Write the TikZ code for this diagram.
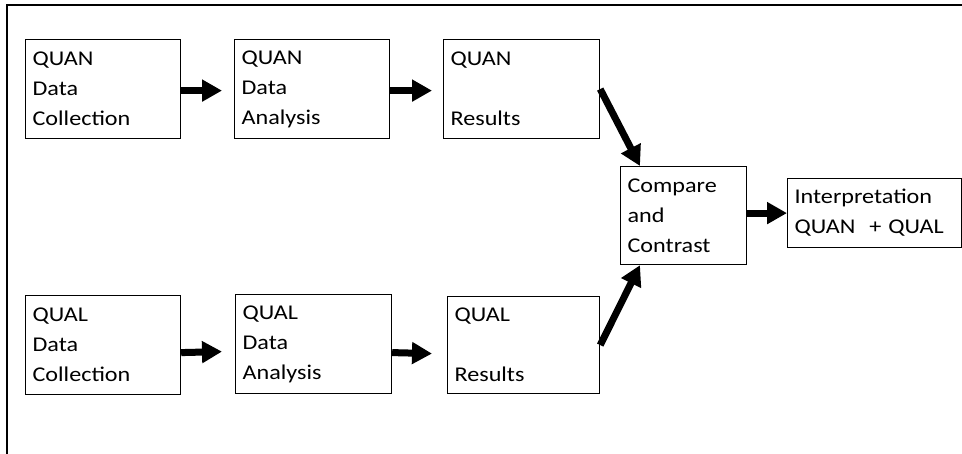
\documentclass[tikz,border=0pt]{standalone}
\usepackage{fontspec}
\setmainfont{Carlito}[FakeStretch=1.15]
\usetikzlibrary{arrows.meta}
\begin{document}
\begin{tikzpicture}[x=1pt,y=-1pt,
  box/.style={draw, line width=1.2pt, rectangle, inner xsep=7pt, inner ysep=0pt,
    align=left, font=\fontsize{21}{30}\selectfont, anchor=north west},
  arr/.style={line width=7pt, -{Triangle[length=20pt,width=21pt]}}]
\useasboundingbox (0,0) rectangle (962,454);
\draw[line width=2pt] (7,470) -- (7,5) -- (980,5);
% top row
\node[box, text width=141pt, minimum height=99pt] (b1) at (25,39) {QUAN\\Data\\Collection};
\node[box, text width=141pt, minimum height=99pt] (b2) at (234,39) {QUAN\\Data\\Analysis};
\node[box, text width=142pt, minimum height=99pt] (b3) at (443,39) {QUAN\\~\\Results};
% bottom row
\node[box, text width=141pt, minimum height=99pt] (b4) at (25,295) {QUAL\\Data\\Collection};
\node[box, text width=142pt, minimum height=99pt] (b5) at (235,294) {QUAL\\Data\\Analysis};
\node[box, text width=138pt, minimum height=97pt] (b6) at (447,296) {QUAL\\~\\Results};
% right part
\node[box, text width=112pt, minimum height=98pt] (cmp) at (620,166) {Compare\\and\\Contrast};
\node[box, text width=160pt, minimum height=69pt] (interp) at (787,178) {Interpretation\\QUAN~~+ QUAL};
% arrows
\draw[arr] ([yshift=-1.5pt]b1.east) -- ([yshift=-1.5pt,xshift=-12pt]b2.west);
\draw[arr] ([yshift=-1.5pt]b2.east) -- ([yshift=-1.5pt,xshift=-11pt]b3.west);
\draw[arr] ([yshift=-7.5pt]b4.east) -- ([yshift=-7.5pt,xshift=-13pt]b5.west);
\draw[arr] ([yshift=-8.5pt]b5.east) -- ([yshift=-8.5pt,xshift=-15pt]b6.west);
\draw[arr] (b3.east) -- ([xshift=20pt]cmp.north west);
\draw[arr] (b6.east) -- ([xshift=20pt]cmp.south west);
\draw[arr] (cmp.east |- interp.west) -- (interp.west);
\end{tikzpicture}
\end{document}
